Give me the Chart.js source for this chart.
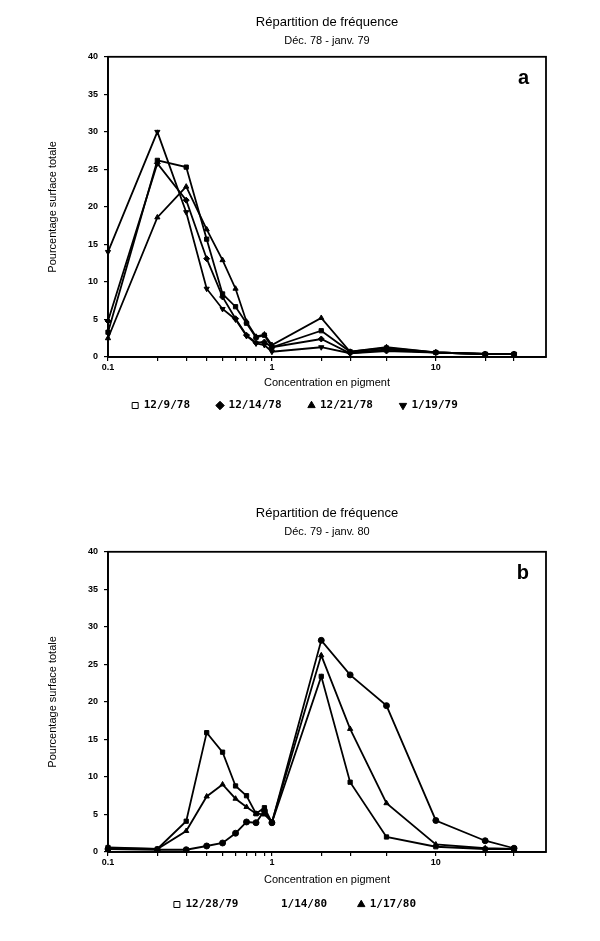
<!DOCTYPE html>
<html>
<head>
<meta charset="utf-8">
<script src="https://cdn.jsdelivr.net/npm/chart.js@4/dist/chart.umd.min.js"></script>
<style>
  body { margin: 0; background: #fff; }
  canvas { position: absolute; left: 0; }
  #freq-a { top: 0; }
  #freq-b { top: 490px; }
</style>
</head>
<body>
<canvas id="freq-a" width="600" height="430"></canvas>
<canvas id="freq-b" width="600" height="451"></canvas>
<script>
// concentration classes (x) shared by both panels
const concentrations = [0.1, 0.2, 0.3, 0.4, 0.5, 0.6, 0.7, 0.8, 0.9, 1, 2, 3, 5, 10, 20, 30];
const labelledTicks = [0.1, 1, 10];
const yTicks = [0, 5, 10, 15, 20, 25, 30, 35, 40];

// panel a : Dec. 78 - Jan. 79
const datesA = ['12/9/78', '12/14/78', '12/21/78', '1/19/79'];
const dec09_78 = [3.3, 26.2, 25.3, 15.7, 8.4, 6.7, 4.5, 2.6, 2.9, 1.3, 3.5, 0.7, 1.2, 0.6, 0.4, 0.4];
const dec14_78 = [4.8, 25.8, 20.9, 13.1, 8.0, 5.1, 2.9, 1.9, 2.0, 1.3, 2.4, 0.5, 0.8, 0.6, 0.4, 0.4];
const dec21_78 = [2.5, 18.6, 22.7, 17.0, 12.9, 9.1, 4.7, 2.7, 3.0, 1.6, 5.2, 0.7, 1.3, 0.6, 0.4, 0.4];
const jan19_79 = [14.0, 30.0, 19.3, 9.1, 6.4, 5.0, 2.8, 1.8, 1.6, 0.7, 1.3, 0.5, 1.0, 0.6, 0.4, 0.4];

// panel b : Dec. 79 - Jan. 80
const datesB = ['12/28/79', '1/14/80', '1/17/80'];
const dec28_79 = [0.6, 0.4, 4.1, 15.9, 13.3, 8.8, 7.5, 5.1, 5.9, 3.9, 23.4, 9.3, 2.0, 0.7, 0.4, 0.4];
const jan14_80 = [0.4, 0.3, 0.3, 0.8, 1.2, 2.5, 4.0, 3.9, 5.5, 3.9, 28.2, 23.6, 19.5, 4.2, 1.5, 0.5];
const jan17_80 = [0.5, 0.4, 2.8, 7.4, 9.0, 7.1, 6.0, 5.1, 5.0, 4.0, 26.2, 16.4, 6.5, 1.0, 0.5, 0.4];

const FONT = '"Liberation Sans", Arial, sans-serif';
Chart.defaults.font.family = FONT;
Chart.defaults.color = '#000';

function series(label, values, style, rotation, legendMark) {
  return {
    label: label,
    data: values.map((v, i) => ({ x: concentrations[i], y: v })),
    borderColor: '#000',
    backgroundColor: '#000',
    borderWidth: 1.8,
    pointStyle: style,
    pointRotation: rotation || 0,
    pointRadius: 3,
    pointBackgroundColor: '#000',
    pointBorderColor: '#000',
    pointBorderWidth: 1,
    tension: 0,
    clip: 8,
    legendMark: legendMark || 'filled'
  };
}

// frame round the plot and the panel letter
const framePlugin = {
  id: 'frame',
  afterDraw(chart, args, opts) {
    const { ctx, chartArea: a } = chart;
    ctx.save();
    ctx.strokeStyle = '#000';
    ctx.lineWidth = 1.8;
    ctx.strokeRect(a.left, a.top, a.right - a.left, a.bottom - a.top);
    ctx.font = 'bold 20px ' + FONT;
    ctx.fillStyle = '#000';
    ctx.textAlign = 'right';
    ctx.fillText(opts.letter, a.right - 17, a.top + 22);
    ctx.restore();
  }
};

function legendItems(chart) {
  const items = Chart.defaults.plugins.legend.labels.generateLabels(chart);
  items.forEach(it => {
    const mark = chart.data.datasets[it.datasetIndex].legendMark;
    if (mark === 'hollow') { it.fillStyle = '#fff'; it.lineWidth = 1; }
    if (mark === 'none') { it.fillStyle = 'rgba(0,0,0,0)'; it.strokeStyle = 'rgba(0,0,0,0)'; }
  });
  return items;
}

function makeOptions(cfg) {
  return {
    responsive: false,
    animation: false,
    layout: { padding: { left: 44, right: 54, top: 0, bottom: cfg.padBottom } },
    plugins: {
      title: {
        display: true, text: cfg.title, fullSize: false, color: '#000',
        font: { size: 13, weight: 'normal' }, padding: { top: cfg.titleTop, bottom: 4 }
      },
      subtitle: {
        display: true, text: cfg.subtitle, fullSize: false, color: '#000',
        font: { size: 11 }, padding: { top: 0, bottom: cfg.subBottom }
      },
      legend: {
        position: 'bottom',
        labels: {
          usePointStyle: true, boxWidth: 6, boxHeight: 6, padding: cfg.legendPad,
          color: '#000', generateLabels: legendItems,
          font: { family: '"DejaVu Sans Mono", monospace', size: 11, weight: 'bold' }
        }
      },
      tooltip: { enabled: false },
      frame: { letter: cfg.letter }
    },
    scales: {
      x: {
        type: 'logarithmic', min: 0.1, max: 47,
        afterBuildTicks: s => { s.ticks = concentrations.map(v => ({ value: v })); },
        afterFit: s => { s.height = 16; },
        ticks: {
          autoSkip: false, maxRotation: 0, padding: 1, color: '#000',
          font: { size: 9, weight: 'bold' },
          callback: v => labelledTicks.includes(v) ? String(v) : ''
        },
        grid: { drawOnChartArea: false, color: '#000', tickLength: 4, lineWidth: 1.2 },
        border: { color: '#000', width: 1.8 },
        title: {
          display: true, text: 'Concentration en pigment', color: '#000',
          font: { size: 11 }, padding: { top: 0, bottom: cfg.xTitlePad }
        }
      },
      y: {
        min: 0, max: 40,
        afterBuildTicks: s => { s.ticks = yTicks.map(v => ({ value: v })); },
        afterFit: s => { s.width = 64; },
        ticks: { padding: 6, color: '#000', font: { size: 9, weight: 'bold' } },
        grid: { drawOnChartArea: false, color: '#000', tickLength: 4, lineWidth: 1.2 },
        border: { color: '#000', width: 1.8 },
        title: {
          display: true, text: 'Pourcentage surface totale', color: '#000',
          font: { size: 11 }, padding: { top: 2, bottom: 0 }
        }
      }
    }
  };
}

new Chart(document.getElementById('freq-a'), {
  type: 'line',
  data: {
    datasets: [
      series(datesA[0], dec09_78, 'rect', 0, 'hollow'),
      series(datesA[1], dec14_78, 'rectRot'),
      series(datesA[2], dec21_78, 'triangle'),
      series(datesA[3], jan19_79, 'triangle', 180)
    ]
  },
  options: makeOptions({
    title: 'Répartition de fréquence', subtitle: 'Déc. 78 - janv. 79', letter: 'a',
    titleTop: 15, subBottom: 9, padBottom: 9, legendPad: 27, xTitlePad: -16.6
  }),
  plugins: [framePlugin]
});

new Chart(document.getElementById('freq-b'), {
  type: 'line',
  data: {
    datasets: [
      series(datesB[0], dec28_79, 'rect', 0, 'hollow'),
      series(datesB[1], jan14_80, 'circle', 0, 'none'),
      series(datesB[2], jan17_80, 'triangle')
    ]
  },
  options: makeOptions({
    title: 'Répartition de fréquence', subtitle: 'Déc. 79 - janv. 80', letter: 'b',
    titleTop: 16, subBottom: 13, padBottom: 21, legendPad: 31, xTitlePad: -18.6
  }),
  plugins: [framePlugin]
});
</script>
</body>
</html>
